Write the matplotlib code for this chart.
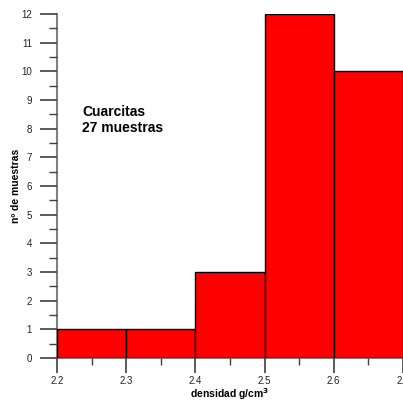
import matplotlib
matplotlib.use("Agg")
import matplotlib.pyplot as plt
import numpy as np
from matplotlib.ticker import MultipleLocator

# bin edges (g/cm3) and sample counts per bin
bin_edges = [2.2, 2.3, 2.4, 2.5, 2.6, 2.7]
counts = [1, 1, 3, 12, 10]
x_ticks = [2.2, 2.3, 2.4, 2.5, 2.6, 2.7]
x_tick_labels = ["2.2", "2.3", "2.4", "2.5", "2.6", "2.7"]

plt.rcParams['font.family'] = ['Liberation Sans', 'DejaVu Sans']

fig = plt.figure(figsize=(4.03, 4.0), dpi=100)
ax = fig.add_axes([0.1414, 0.105, 0.8586, 0.86])

edges = np.array(bin_edges)
ax.bar(edges[:-1], counts, width=np.diff(edges), align='edge',
       color='#ff0000', edgecolor='black', linewidth=1.0, zorder=2)

ax.set_xlim(2.2, 2.7)
ax.set_ylim(0, 12)
ax.set_xticks(x_ticks)
ax.set_xticklabels(x_tick_labels)
ax.xaxis.set_minor_locator(MultipleLocator(0.05))
ax.yaxis.set_major_locator(MultipleLocator(1))
ax.yaxis.set_minor_locator(MultipleLocator(0.5))

for side in ['top', 'right']:
    ax.spines[side].set_visible(False)
for side in ['left', 'bottom']:
    ax.spines[side].set_color('#808080')
    ax.spines[side].set_linewidth(1.5)
    ax.spines[side].set_zorder(1)

ax.tick_params(axis='y', which='major', length=12, width=1.2, color='#404040',
               labelsize=7, pad=6, labelcolor='#222222')
ax.tick_params(axis='y', which='minor', length=6, width=1.0, color='#404040')
ax.tick_params(axis='x', which='major', length=11, width=1.2, color='#404040',
               labelsize=7, pad=2, labelcolor='#222222')
ax.tick_params(axis='x', which='minor', length=5, width=1.0, color='#404040')

ax.set_xlabel('densidad g/cm$^{\\mathbf{3}}$', fontsize=7.5, fontweight='bold',
              va='center')
ax.xaxis.set_label_coords(0.5, -0.106)
ax.set_ylabel('nº de muestras', fontsize=7.5, fontweight='bold', va='center')
ax.yaxis.set_label_coords(-0.118, 0.5)

ax.text(0.073, 0.735, 'Cuarcitas\n27 muestras', transform=ax.transAxes,
        fontsize=10, fontweight='bold', ha='left', va='top', linespacing=1.15)

fig.savefig('out.png', dpi=100)
